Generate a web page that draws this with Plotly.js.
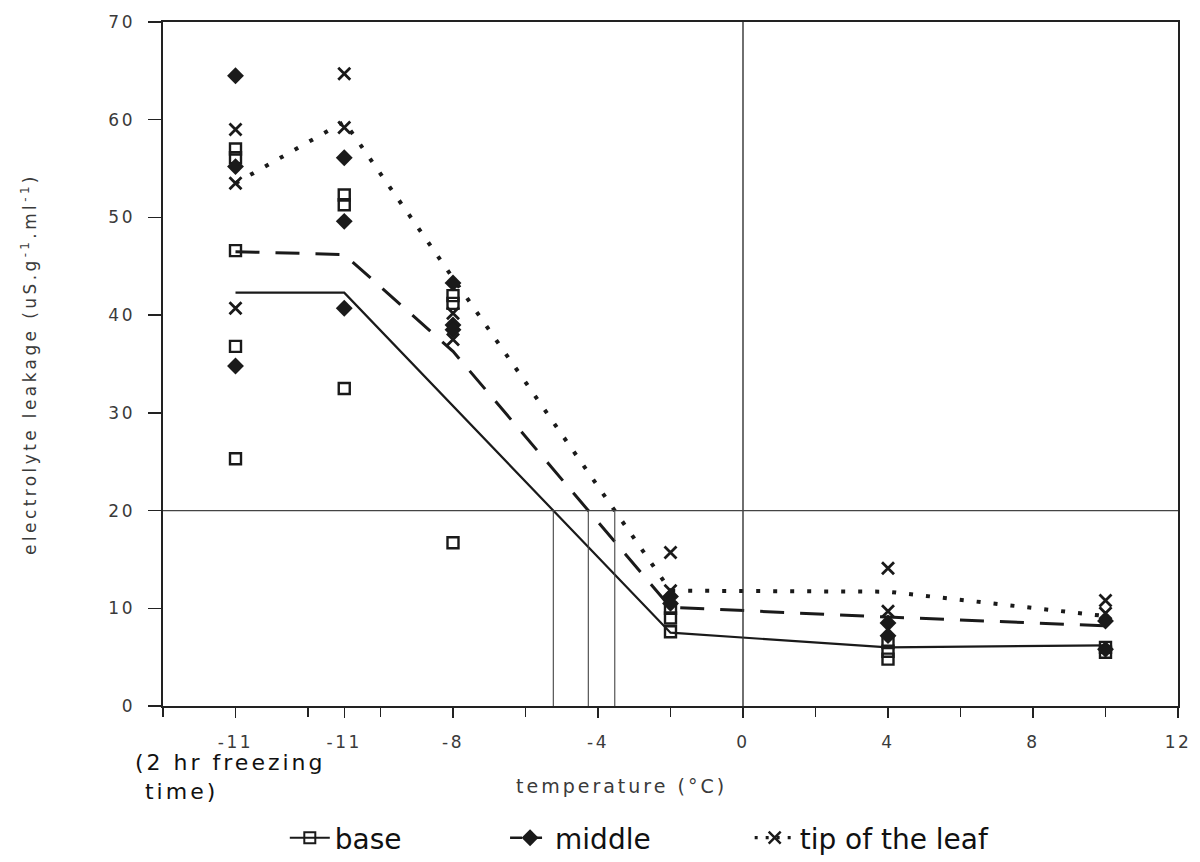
<!DOCTYPE html>
<html>
<head>
<meta charset="utf-8">
<script src="https://cdn.plot.ly/plotly-3.0.1.min.js"></script>
<style>
html,body{margin:0;padding:0;background:#fff;}
#chart{width:1200px;height:862px;}
#chart .xtick text, #chart .ytick text{letter-spacing:2.5px;}
#chart .ytitle{letter-spacing:3.4px;}
#chart .annotation-text{letter-spacing:3px;}
</style>
</head>
<body>
<div id="chart"></div>
<script>
// ---- data ----
// x positions: -14 on the linear axis is the "-11 (2 hr freezing time)" treatment
var tickVals = [-14, -11, -8, -4, 0, 4, 8, 12];
var tickText = ['-11', '-11', '-8', '-4', '0', '4', '8', '12'];
var minorTickVals = [-16, -12, -10, -6, -2, 2, 6, 10];
var yTickVals = [0, 10, 20, 30, 40, 50, 60, 70];
var yTickText = ['0', '10', '20', '30', '40', '50', '60', '70'];

var baseLineX = [-14, -11, -2, 4, 10];
var baseLineY = [42.3, 42.3, 7.5, 6.0, 6.2];
var middleLineX = [-14, -11, -8, -2, 4, 10];
var middleLineY = [46.5, 46.2, 36.3, 10.1, 9.1, 8.2];
var tipLineX = [-14, -11, -2, 4, 10];
var tipLineY = [53.5, 59.8, 11.8, 11.7, 9.2];

var baseX = [-14, -14, -14, -14, -14, -11, -11, -11, -8, -8, -8, -2, -2, -2, 4, 4, 4, 10, 10];
var baseY = [57.0, 56.1, 46.6, 36.8, 25.3, 52.3, 51.3, 32.5, 42.0, 41.2, 16.7, 10.0, 9.0, 7.6, 6.5, 5.6, 4.8, 6.0, 5.5];
var middleX = [-14, -14, -14, -11, -11, -11, -8, -8, -8, -2, -2, 4, 4, 10, 10];
var middleY = [64.5, 55.2, 34.8, 56.1, 49.6, 40.7, 43.3, 39.0, 38.5, 11.2, 10.5, 8.5, 7.2, 8.7, 5.8];
var tipX = [-14, -14, -14, -11, -11, -8, -8, -2, -2, 4, 4, 10, 10];
var tipY = [59.0, 53.5, 40.7, 64.7, 59.2, 40.2, 37.5, 15.7, 11.8, 14.1, 9.7, 10.8, 9.5];

var criticalLevel = 20;
var seriesNames = ['base', 'middle', 'tip of the leaf'];

// ---- helpers ----
function crossing(xs, ys, level) {
  for (var i = 0; i < xs.length - 1; i++) {
    var y0 = ys[i], y1 = ys[i + 1];
    if ((y0 - level) * (y1 - level) <= 0 && y0 !== y1) {
      return xs[i] + (level - y0) * (xs[i + 1] - xs[i]) / (y1 - y0);
    }
  }
  return null;
}

var ink = '#1a1a1a';
var dashMid = '24px,16px';
var dashTip = '4px,13px';

var traces = [
  {x: baseLineX, y: baseLineY, mode: 'lines', line: {color: ink, width: 2.2}, showlegend: false, hoverinfo: 'skip'},
  {x: middleLineX, y: middleLineY, mode: 'lines', line: {color: ink, width: 3, dash: dashMid}, showlegend: false, hoverinfo: 'skip'},
  {x: tipLineX, y: tipLineY, mode: 'lines', line: {color: ink, width: 4, dash: dashTip}, showlegend: false, hoverinfo: 'skip'},
  {x: baseX, y: baseY, mode: 'markers', showlegend: false,
   marker: {symbol: 'square-open', size: 11, color: ink, line: {width: 2.4, color: ink}}},
  {x: middleX, y: middleY, mode: 'markers', showlegend: false,
   marker: {symbol: 'diamond', size: 13, color: ink, line: {width: 0}}},
  {x: tipX, y: tipY, mode: 'markers', showlegend: false,
   marker: {symbol: 'x-thin-open', size: 12, color: ink, line: {width: 2.8, color: ink}}},
  // legend entries (one legend each, placed like the hand-written key)
  {x: [null], y: [null], name: seriesNames[0], legend: 'legend', mode: 'lines+markers', line: {color: ink, width: 2},
   marker: {symbol: 'square-open', size: 11, color: ink, line: {width: 2, color: ink}}},
  {x: [null], y: [null], name: seriesNames[1], legend: 'legend2', mode: 'lines+markers', line: {color: ink, width: 2.6, dash: '12px,8px'},
   marker: {symbol: 'diamond', size: 13, color: ink}},
  {x: [null], y: [null], name: seriesNames[2], legend: 'legend3', mode: 'lines+markers', line: {color: ink, width: 3.2, dash: '3px,8px'},
   marker: {symbol: 'x-thin-open', size: 12, color: ink, line: {width: 2.5, color: ink}}}
];

var shapes = [
  {type: 'line', xref: 'x', yref: 'y', x0: 0, x1: 0, y0: 0, y1: 70, line: {color: '#333', width: 1.4}},
  {type: 'line', xref: 'paper', yref: 'y', x0: 0, x1: 1, y0: criticalLevel, y1: criticalLevel, line: {color: '#444', width: 1.3}}
];
[[baseLineX, baseLineY], [middleLineX, middleLineY], [tipLineX, tipLineY]].forEach(function (s) {
  var xc = crossing(s[0], s[1], criticalLevel);
  if (xc !== null) {
    shapes.push({type: 'line', xref: 'x', yref: 'y', x0: xc, x1: xc, y0: 0, y1: criticalLevel,
      line: {color: '#444', width: 1.1}});
  }
});

var axisFont = {family: 'DejaVu Sans, sans-serif', size: 17, color: '#3a3a3a'};
var legendFont = {family: 'DejaVu Sans, sans-serif', size: 28, color: '#111'};
function legendAt(xp) {
  return {orientation: 'h', x: xp, xanchor: 'left', y: -0.193, yanchor: 'middle',
    font: legendFont, bgcolor: 'rgba(0,0,0,0)', itemwidth: 40};
}

var layout = {
  width: 1200, height: 862,
  paper_bgcolor: '#ffffff', plot_bgcolor: '#ffffff',
  margin: {l: 163, r: 22, t: 22, b: 156, autoexpand: false},
  showlegend: true,
  legend: legendAt(0.12),
  legend2: legendAt(0.337),
  legend3: legendAt(0.578),
  xaxis: {
    range: [-16, 12], tickmode: 'array', tickvals: tickVals, ticktext: tickText,
    minor: {tickmode: 'array', tickvals: minorTickVals, ticks: 'outside', ticklen: 9, tickwidth: 1.4, tickcolor: '#222'},
    showgrid: false, zeroline: false, showline: true, mirror: true, linecolor: '#222', linewidth: 1.6,
    ticks: 'outside', ticklen: 10, tickwidth: 1.5, tickcolor: '#222', ticklabelstandoff: 10,
    tickfont: axisFont, fixedrange: true
  },
  yaxis: {
    range: [0, 70], tickmode: 'array', tickvals: yTickVals, ticktext: yTickText,
    showgrid: false, zeroline: false, showline: true, mirror: true, linecolor: '#222', linewidth: 1.6,
    ticks: 'outside', ticklen: 13, tickwidth: 1.4, tickcolor: '#222', ticklabelstandoff: 10,
    tickfont: axisFont, fixedrange: true,
    title: {text: 'electrolyte leakage (uS.g<sup>-1</sup>.ml<sup>-1</sup>)', standoff: 72,
      font: {family: 'DejaVu Sans, sans-serif', size: 17, color: '#3a3a3a'}}
  },
  shapes: shapes,
  annotations: [
    {xref: 'paper', yref: 'paper', x: 0.452, y: -0.117, xanchor: 'center', yanchor: 'middle', showarrow: false,
     text: 'temperature (°C)', font: {family: 'DejaVu Sans, sans-serif', size: 19, color: '#3a3a3a'}},
    {xref: 'paper', yref: 'paper', x: -0.03, y: -0.062, xanchor: 'left', yanchor: 'top', showarrow: false, align: 'left',
     text: '(2 hr freezing<br> time)', font: {family: 'DejaVu Sans, sans-serif', size: 22, color: '#111'}}
  ]
};

Plotly.newPlot('chart', traces, layout, {displayModeBar: false, staticPlot: true});
</script>
</body>
</html>
